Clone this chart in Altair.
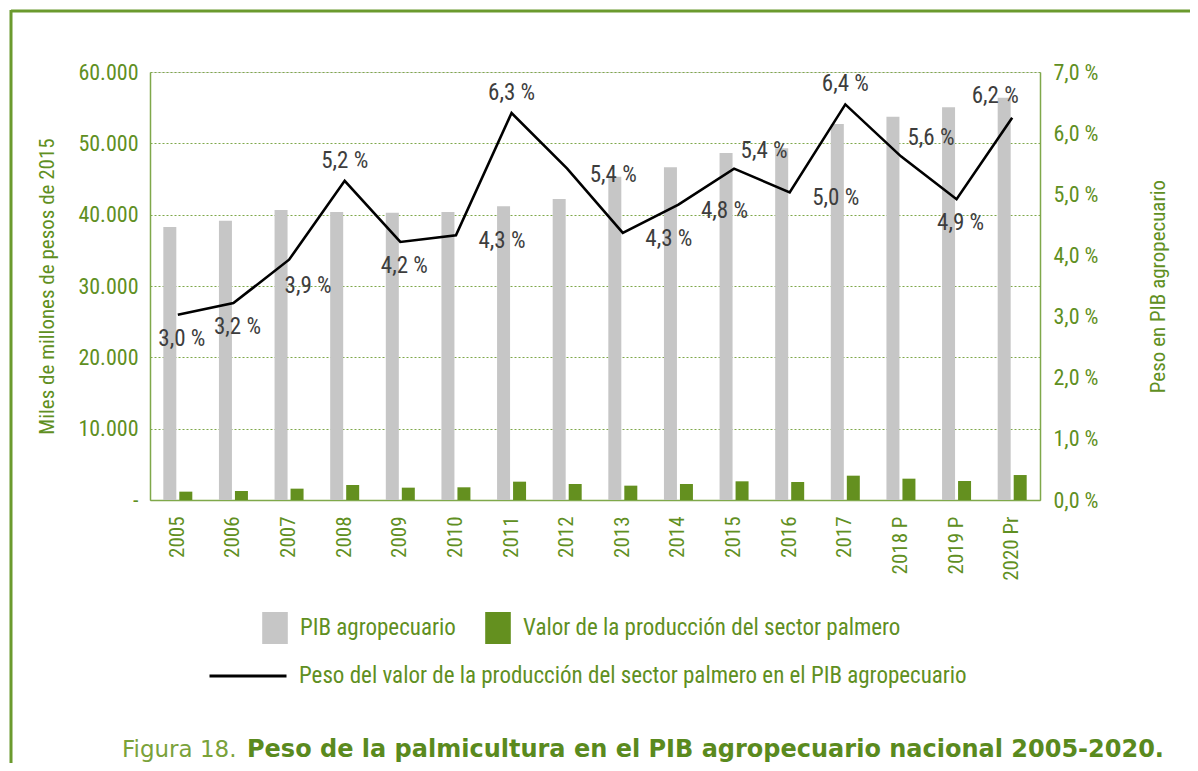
import altair as alt
import pandas as pd

# ---------------- data ----------------
years = ["2005", "2006", "2007", "2008", "2009", "2010", "2011", "2012",
         "2013", "2014", "2015", "2016", "2017", "2018 P", "2019 P", "2020 Pr"]
pib_agro = [38270, 39160, 40660, 40380, 40280, 40380, 41180, 42200,
            45330, 46640, 48650, 49300, 52710, 53740, 55060, 56400]
valor_palma = [1170, 1260, 1590, 2100, 1730, 1780, 2570, 2240,
               2010, 2240, 2620, 2520, 3410, 2990, 2660, 3500]
peso_pct = [3.03, 3.22, 3.93, 5.22, 4.22, 4.33, 6.33, 5.42,
            4.37, 4.83, 5.42, 5.03, 6.47, 5.62, 4.92, 6.25]
peso_labels = ["3,0 %", "3,2 %", "3,9 %", "5,2 %", "4,2 %", "4,3 %", "6,3 %", "5,4 %",
               "4,3 %", "4,8 %", "5,4 %", "5,0 %", "6,4 %", "5,6 %", "4,9 %", "6,2 %"]
label_place = ["below", "below", "below-right", "above", "below", "right", "above", "right",
               "right", "right", "above-right", "right", "above", "above-right", "below", "above-left"]

serie_pib = "PIB agropecuario"
serie_palma = "Valor de la producción del sector palmero"
serie_peso = "Peso del valor de la producción del sector palmero en el PIB agropecuario"

# ---------------- styles ----------------
GREEN = "#64901f"
GREEN_TXT = "#5f8f22"
GREY = "#c6c6c6"
LABEL_GREY = "#3d3d3d"
COND = "Roboto Condensed, Liberation Sans Narrow, DejaVu Sans Condensed, Roboto, sans-serif"

bars_df = pd.DataFrame({
    "year": years * 2,
    "serie": [serie_pib] * len(years) + [serie_palma] * len(years),
    "value": pib_agro + valor_palma,
})
line_df = pd.DataFrame({
    "year": years,
    "peso": peso_pct,
    "label": peso_labels,
    "place": label_place,
    "serie": [serie_peso] * len(years),
})
dummy = pd.DataFrame({"k": [0]})

x_enc = alt.X("year:N", sort=years, title=None,
              scale=alt.Scale(paddingInner=0, paddingOuter=0),
              axis=alt.Axis(labelAngle=270, labelFontSize=21, labelFont=COND,
                            labelColor=GREEN_TXT, labelPadding=16, ticks=False,
                            domainColor="#7fa84a", domainWidth=1.5))

color_scale = alt.Scale(domain=[serie_pib, serie_palma], range=[GREY, GREEN])
y_left = alt.Y("value:Q", scale=alt.Scale(domain=[0, 60000], nice=False),
               axis=alt.Axis(values=[0, 10000, 20000, 30000, 40000, 50000, 60000],
                             labelExpr="datum.value == 0 ? '-' : replace(format(datum.value, ','), ',', '.')",
                             labelFontSize=22, labelFont=COND, labelColor=GREEN_TXT,
                             labelPadding=12, ticks=False, domainColor="#7fa84a", domainWidth=1.5,
                             grid=True, gridColor="#7fa84a", gridDash=[2, 2], gridWidth=1,
                             title="Miles de millones de pesos de 2015", titleFont=COND,
                             titleFontSize=21, titleFontWeight="normal", titleColor=GREEN_TXT,
                             titleAngle=270, titleX=-103, titleY=214, titleAlign="center",
                             titleBaseline="middle"))

legend_bars = alt.Legend(title=None, orient="none", legendX=109, legendY=540,
                         direction="horizontal", symbolType="M-0.8,-1L0.8,-1L0.8,1L-0.8,1Z",
                         symbolSize=1024, symbolStrokeWidth=0, labelOffset=9, columnPadding=26,
                         labelFont=COND, labelFontSize=23, labelColor=GREEN_TXT, labelLimit=600)

grey_bars = alt.Chart(bars_df).transform_filter(alt.datum.serie == serie_pib).mark_bar(
    size=13, xOffset=-8).encode(
    x=x_enc, y=y_left,
    color=alt.Color("serie:N", scale=color_scale, legend=legend_bars))
green_bars = alt.Chart(bars_df).transform_filter(alt.datum.serie == serie_palma).mark_bar(
    size=13, xOffset=8).encode(
    x=alt.X("year:N", sort=years), y=alt.Y("value:Q"),
    color=alt.Color("serie:N", scale=color_scale, legend=legend_bars))
bars = alt.layer(grey_bars, green_bars)

y_right = alt.Y("peso:Q", scale=alt.Scale(domain=[0, 7], nice=False),
                axis=alt.Axis(orient="right", values=[0, 1, 2, 3, 4, 5, 6, 7],
                              labelExpr="replace(format(datum.value, '.1f'), '.', ',') + ' %'",
                              labelFontSize=22, labelFont=COND, labelColor=GREEN_TXT,
                              labelPadding=13, ticks=False, grid=False,
                              domainColor="#7fa84a", domainWidth=1.5,
                              title="Peso en PIB agropecuario", titleFont=COND,
                              titleFontSize=21, titleFontWeight="normal", titleColor=GREEN_TXT,
                              titleAngle=270, titleX=118, titleY=214, titleAlign="center",
                              titleBaseline="middle"))

legend_line = alt.Legend(title=None, orient="none", legendX=58, legendY=564,
                         symbolType="stroke", symbolSize=5929, symbolStrokeWidth=3,
                         labelOffset=11, labelFont=COND, labelFontSize=23,
                         labelColor=GREEN_TXT, labelLimit=900)

line = alt.Chart(line_df).mark_line(strokeWidth=2.6).encode(
    x=alt.X("year:N", sort=years), y=y_right,
    stroke=alt.Stroke("serie:N", scale=alt.Scale(domain=[serie_peso], range=["black"]),
                      legend=legend_line))

offsets = {
    "above": (0, -20),
    "below": (4, 24),
    "below-right": (19, 26),
    "right": (46, 6),
    "above-right": (30, -18),
    "above-left": (-17, -22),
}
texts = []
for place, (dx, dy) in offsets.items():
    texts.append(
        alt.Chart(line_df).transform_filter(alt.datum.place == place).mark_text(
            dx=dx, dy=dy, font=COND, fontSize=23, color=LABEL_GREY, baseline="middle").encode(
            x=alt.X("year:N", sort=years), y=alt.Y("peso:Q"), text="label:N")
    )
line_layer = alt.layer(line, *texts)

# ---------------- decorations ----------------
frame_top = alt.Chart(dummy).mark_rule(color="#6b9a2e", strokeWidth=3).encode(
    x=alt.value(-139), x2=alt.value(1048), y=alt.value(-61))
frame_left = alt.Chart(dummy).mark_rule(color="#6b9a2e", strokeWidth=3).encode(
    x=alt.value(-139), y=alt.value(-62), y2=alt.value(700))
cap1 = alt.Chart(dummy).mark_text(font="DejaVu Sans", fontSize=23, fontWeight="normal",
                                  color="#7aa23a", align="left", baseline="alphabetic").encode(
    x=alt.value(-28), y=alt.value(685), text=alt.value("Figura 18."))
cap2 = alt.Chart(dummy).mark_text(font="DejaVu Sans", fontSize=24, fontWeight="bold",
                                  color="#5a8a1e", align="left", baseline="alphabetic").encode(
    x=alt.value(97), y=alt.value(685),
    text=alt.value("Peso de la palmicultura en el PIB agropecuario nacional 2005-2020."))
deco = alt.layer(frame_top, frame_left, cap1, cap2)

chart = alt.layer(bars, line_layer, deco).resolve_scale(
    y="independent", color="independent", stroke="independent"
).properties(
    width=890, height=428,
    autosize=alt.AutoSizeParams(type="none"),
    padding={"left": 142, "top": 64, "right": 150, "bottom": 263},
).configure_view(stroke=None).configure(background="white")

chart.save("out.html", embed_options={"renderer": "svg", "actions": False})
